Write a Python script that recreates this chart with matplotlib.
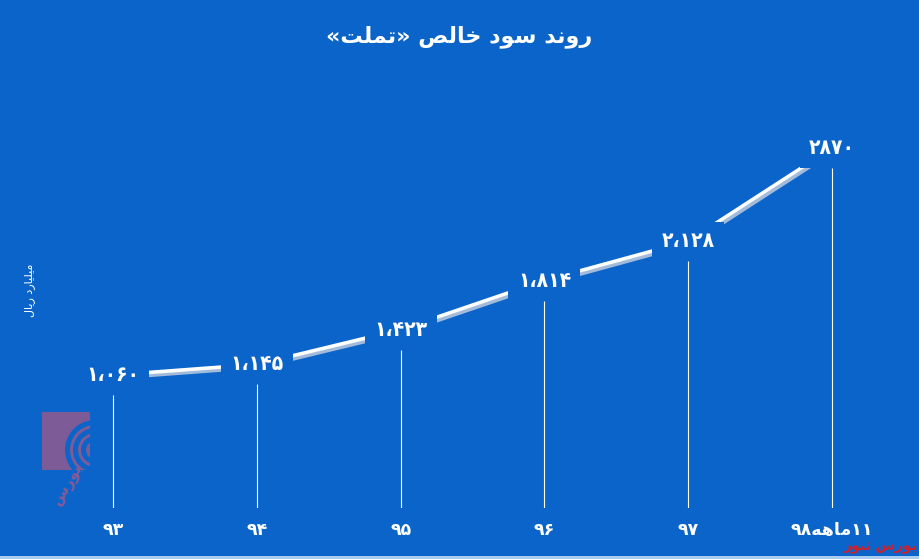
import matplotlib
matplotlib.use("Agg")
import matplotlib.pyplot as plt
import matplotlib.patheffects as pe
from matplotlib.patches import Rectangle, Wedge

# ---- data ----
years = ["۹۳", "۹۴", "۹۵", "۹۶", "۹۷", "۹۸" + "\ufeea\ufeeb\ufe8e\ufee3" + "۱۱"]
values = [1060, 1145, 1423, 1814, 2128, 2870]
value_labels = ["۱،۰۶۰", "۱،۱۴۵", "۱،۴۲۳", "۱،۸۱۴", "۲،۱۲۸", "۲۸۷۰"]
# visually ordered (pre-shaped) Persian strings
title = ("«\ufe96\ufee0\ufee4\ufe97» \ufeba\ufedf\ufe8e\ufea7 "
         "\ufea9\ufeee\ufeb3 \ufeaa\ufee7\ufeed\ufead")
ylabel = "\ufedd\ufe8e\ufef3\ufead \ufea9\ufead\ufe8e\ufef4\ufee0\ufef4\ufee3"
source = "\ufeaf\ufeee\ufef4\ufee7 \ufeb1\ufead\ufeee\ufe91"

BG = "#0b64c9"
W, H = 919, 559
fig = plt.figure(figsize=(W / 100, H / 100), dpi=100, facecolor=BG)
plt.rcParams['font.family'] = ['DejaVu Sans']

# axes in pixel geometry
left_px, right_px, top_px, bot_px = 40, 900, 100, 508
ax = fig.add_axes([left_px / W, 1 - bot_px / H, (right_px - left_px) / W, (bot_px - top_px) / H])
ax.set_facecolor(BG)
for s in ax.spines.values():
    s.set_visible(False)
ax.set_xticks([])
ax.set_yticks([])
ax.set_ylim(0, 3254)
ax.set_xlim(-0.508, 5.473)

x = list(range(len(values)))
offset = 160
ax.vlines(x, 0, [v - offset for v in values], color="white", lw=0.8, zorder=1)

ax.plot(x, values, color="white", lw=2.6, solid_capstyle="butt", zorder=2,
        path_effects=[pe.SimpleLineShadow(offset=(1.5, -2), shadow_color="#a3bbdb", alpha=1),
                      pe.Normal()])
for xi, v, lab in zip(x, values, value_labels):
    ax.text(xi, v, lab, color="white", fontsize=15, fontweight="bold", fontstretch="condensed",
            ha="center", va="center", zorder=3,
            bbox=dict(boxstyle="square,pad=0.45", fc=BG, ec="none"))

for xi, lab in zip(x, years):
    fig.text((left_px + (xi + 0.508) / 5.981 * (right_px - left_px)) / W, 1 - 530 / H, lab,
             color="white", fontsize=12.5, fontweight="bold", ha="center", va="center")

fig.text(0.5, 1 - 37 / H, title, color="white", fontsize=16, fontweight="bold",
         ha="center", va="center")
fig.text(30 / W, 1 - 290 / H, ylabel, color="white", fontsize=8, rotation=90,
         ha="center", va="center")
fig.text(880 / W, 1 - 547 / H, source, color="#d0202a", fontsize=10, fontweight="bold",
         ha="center", va="center")

# watermark logo (approximation)
lax = fig.add_axes([40 / W, 1 - 505 / H, 60 / W, 95 / H])
lax.set_xlim(0, 60)
lax.set_ylim(0, 95)
lax.axis("off")
lax.add_patch(Rectangle((2, 35), 48, 58, fc="#8a5a92", ec="none", alpha=0.9))
for r, w in [(30, 5), (22, 5), (14, 5)]:
    lax.add_patch(Wedge((55, 55), r, 100, 260, width=w, fc=BG, ec="none"))
lax.text(28, 20, "\ufeb1\ufead\ufeee\ufe91", color="#8a5a92", fontsize=11, ha="center",
         va="center", rotation=60, fontweight="bold")

fig.patches.append(Rectangle((0, 0), 1, 3 / H, transform=fig.transFigure, fc="#a9cdf0", ec="none"))
fig.savefig("out.png", dpi=100, facecolor=BG)
